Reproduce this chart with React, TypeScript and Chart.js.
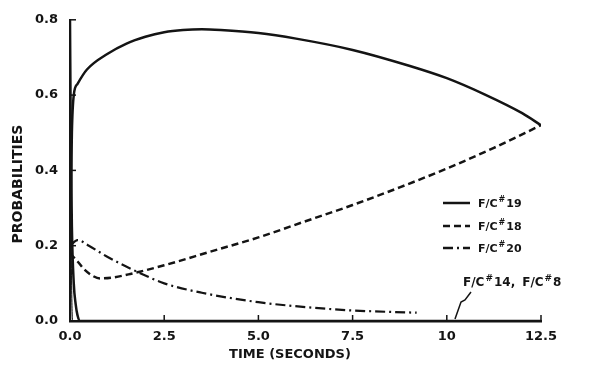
import React, { useEffect, useRef } from "react";
import { Chart, registerables } from "chart.js";

Chart.register(...registerables);

// ---- data ----
const xTickLabels = ["0.0", "2.5", "5.0", "7.5", "10", "12.5"];
const yTickLabels = ["0.0", "0.2", "0.4", "0.6", "0.8"];

const timeF19 = [0, 0.02, 0.05, 0.1, 0.2, 0.45, 1, 1.5, 2, 2.5, 3, 3.5, 4, 5, 6, 7.5, 9, 10, 11, 12, 12.5];
const probF19 = [0, 0.3, 0.5, 0.6, 0.63, 0.668, 0.71, 0.737, 0.755, 0.767, 0.773, 0.775, 0.773, 0.765, 0.75, 0.72, 0.678, 0.645, 0.602, 0.552, 0.52];

const timeF18 = [0, 0.2, 0.4, 0.6, 0.8, 1.1, 1.6, 2.5, 3.75, 5, 6.25, 7.5, 8.75, 10, 11.25, 12.5];
const probF18 = [0.18, 0.158, 0.135, 0.12, 0.113, 0.115, 0.125, 0.148, 0.185, 0.222, 0.265, 0.308, 0.355, 0.405, 0.46, 0.52];

const timeF20 = [0, 0.2, 0.5, 1, 1.8, 2.5, 3.5, 5, 6.6, 7.5, 9.2];
const probF20 = [0.2, 0.215, 0.2, 0.17, 0.13, 0.1, 0.075, 0.05, 0.034, 0.028, 0.022];

const timeF14 = [0, 0.02, 0.05, 0.1, 0.15, 0.2, 0.27, 12.5];
const probF14 = [0.8, 0.5, 0.25, 0.1, 0.045, 0.015, 0, 0];

const timeF8 = [0, 0.04, 0.07, 12.5];
const probF8 = [0.55, 0.12, 0, 0];

const legendLabels = ["19", "18", "20"];
const annotationText = ["14", "8"];
const xTitle = "TIME (SECONDS)";
const yTitle = "PROBABILITIES";

const toPoints = (xs: number[], ys: number[]) => xs.map((x, i) => ({ x, y: ys[i] }));

const INK = "#141414";
const FONT = "'DejaVu Sans', sans-serif";

const inwardTicks = {
  id: "inwardTicks",
  afterDraw(chart: any) {
    const { ctx, chartArea, scales } = chart;
    ctx.save();
    ctx.strokeStyle = INK;
    ctx.lineWidth = 1.5;
    const xs = scales.x;
    xs.ticks.forEach((t: any) => {
      const px = xs.getPixelForValue(t.value);
      ctx.beginPath();
      ctx.moveTo(px, chartArea.bottom);
      ctx.lineTo(px, chartArea.bottom - 6);
      ctx.stroke();
    });
    const ys = scales.y;
    ys.ticks.forEach((t: any) => {
      const py = ys.getPixelForValue(t.value);
      ctx.beginPath();
      ctx.moveTo(chartArea.left, py);
      ctx.lineTo(chartArea.left + 6, py);
      ctx.stroke();
    });
    ctx.restore();
  },
};

const drawFC = (ctx: CanvasRenderingContext2D, x: number, y: number, num: string, size: number) => {
  ctx.font = `bold ${size}px ${FONT}`;
  ctx.textBaseline = "middle";
  ctx.textAlign = "left";
  ctx.fillText("F/C", x, y);
  let w = ctx.measureText("F/C").width;
  ctx.font = `bold ${Math.round(size * 0.75)}px ${FONT}`;
  ctx.fillText("#", x + w + 1, y - size * 0.4);
  w += ctx.measureText("#").width + 2;
  ctx.font = `bold ${size}px ${FONT}`;
  ctx.fillText(num, x + w, y);
  return w + ctx.measureText(num).width;
};

const legendPlugin = {
  id: "customLegend",
  afterDraw(chart: any) {
    const { ctx, chartArea } = chart;
    const ds = chart.data.datasets;
    ctx.save();
    ctx.fillStyle = INK;
    ctx.strokeStyle = INK;
    // axis titles
    ctx.font = `bold 14px ${FONT}`;
    ctx.textAlign = "center";
    ctx.textBaseline = "middle";
    ctx.save();
    ctx.translate(18, 184);
    ctx.rotate(-Math.PI / 2);
    ctx.fillText(yTitle, 0, 0);
    ctx.restore();
    ctx.font = `bold 13px ${FONT}`;
    ctx.fillText(xTitle, 290, 355);

    const x0 = chartArea.left + 373;
    const rows = [203, 226, 248];
    for (let i = 0; i < 3; i++) {
      const y = rows[i];
      ctx.lineWidth = 2.5;
      ctx.setLineDash(ds[i].borderDash || []);
      ctx.beginPath();
      ctx.moveTo(x0, y);
      ctx.lineTo(x0 + 27, y);
      ctx.stroke();
      ctx.setLineDash([]);
      drawFC(ctx, x0 + 35, y + 1, legendLabels[i], 11);
    }
    // annotation for the zero lines
    const ax = x0 + 20;
    const ay = 283;
    const w = drawFC(ctx, ax, ay, annotationText[0] + ",", 12);
    drawFC(ctx, ax + w + 7, ay, annotationText[1], 12);
    ctx.lineWidth = 1.5;
    ctx.beginPath();
    ctx.moveTo(ax + 8, ay + 9);
    ctx.lineTo(ax + 2, ay + 17);
    ctx.lineTo(ax - 2, ay + 19);
    ctx.lineTo(ax - 8, ay + 36);
    ctx.stroke();
    ctx.restore();
  },
};

export default function App() {
  const ref = useRef<HTMLCanvasElement>(null);
  useEffect(() => {
    if (!ref.current) return;
    const base = { pointRadius: 0, borderColor: INK, fill: false, cubicInterpolationMode: "monotone" as const };
    const chart = new Chart(ref.current, {
      type: "line",
      data: {
        datasets: [
          { ...base, label: "F/C#19", data: toPoints(timeF19, probF19), borderWidth: 2.5 },
          { ...base, label: "F/C#18", data: toPoints(timeF18, probF18), borderWidth: 2.5, borderDash: [7, 4] },
          { ...base, label: "F/C#20", data: toPoints(timeF20, probF20), borderWidth: 2.2, borderDash: [10, 4, 2, 4] },
          { ...base, label: "F/C#14", data: toPoints(timeF14, probF14), borderWidth: 2.5 },
          { ...base, label: "F/C#8", data: toPoints(timeF8, probF8), borderWidth: 1 },
        ],
      },
      options: {
        animation: false,
        responsive: false,
        parsing: false as any,
        layout: { padding: { left: 0, top: 18, right: 70, bottom: 0 } },
        plugins: { legend: { display: false }, tooltip: { enabled: false } },
        scales: {
          x: {
            type: "linear",
            min: 0,
            max: 12.5,
            afterFit: (s: any) => { s.height = 52; },
            grid: { drawOnChartArea: false, drawTicks: false },
            border: { display: true, color: INK, width: 2.5 },
            ticks: {
              stepSize: 2.5,
              padding: 8,
              color: INK,
              maxRotation: 0,
              font: { family: FONT, weight: "bold", size: 13 },
              callback: (_v: any, i: number) => xTickLabels[i],
            },
            title: { display: false },
          },
          y: {
            type: "linear",
            min: 0,
            max: 0.8,
            afterFit: (s: any) => { s.width = 70; },
            grid: { drawOnChartArea: false, drawTicks: false },
            border: { display: true, color: INK, width: 2 },
            ticks: {
              stepSize: 0.2,
              padding: 12,
              color: INK,
              font: { family: FONT, weight: "bold", size: 13 },
              callback: (_v: any, i: number) => yTickLabels[i],
            },
            title: { display: false },
          },
        },
      },
      plugins: [inwardTicks, legendPlugin],
    });
    return () => chart.destroy();
  }, []);
  return (
    <div style={{ position: "fixed", left: 0, top: 0, width: 611, height: 373, background: "#fff" }}>
      <canvas ref={ref} width={611} height={373} style={{ display: "block" }} />
    </div>
  );
}
